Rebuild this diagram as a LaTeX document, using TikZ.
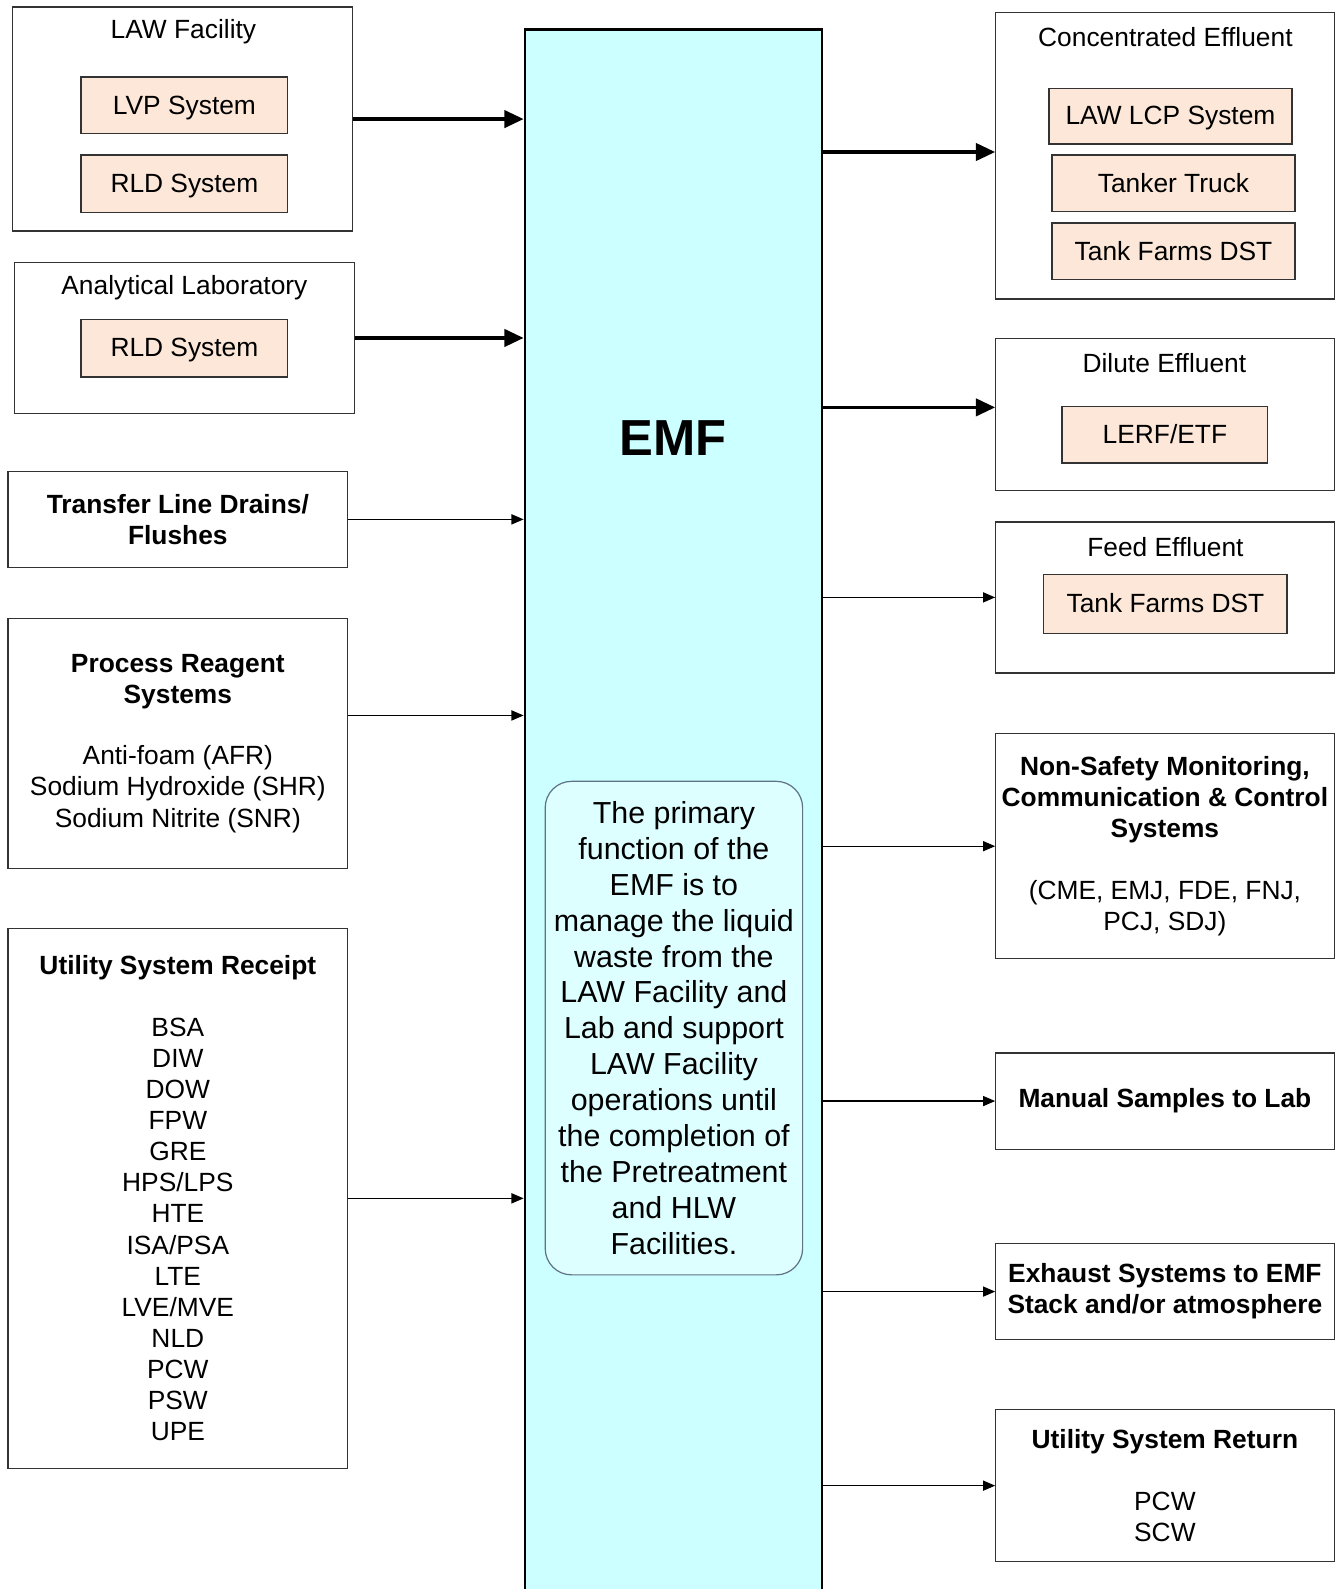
\documentclass[tikz,border=0pt]{standalone}
\usepackage{fontspec}
\setmainfont{Liberation Sans}
\usetikzlibrary{arrows.meta,positioning}

\definecolor{emfcyan}{RGB}{204,255,255}
\definecolor{notecyan}{RGB}{222,255,255}
\definecolor{syspink}{RGB}{252,231,216}
\definecolor{noteline}{RGB}{95,115,135}

\tikzset{
  grp/.style={draw=black!80, line width=1.3pt, inner sep=0pt, outer sep=0pt,
    align=center, font=\fontsize{26}{30.7}\selectfont},
  sys/.style={grp, fill=syspink, text height=19.5pt, text depth=2pt},
  note/.style={draw=noteline, line width=1.2pt, fill=notecyan, rounded corners=26pt,
    align=center, font=\fontsize{30}{35.5}\selectfont},
  ttl/.style={font=\fontsize{26}{30.7}\selectfont, yshift=-2.5pt},
  bigflow/.style={line width=3.4pt, -{Triangle[length=19pt,width=17pt]}},
  flow/.style={line width=1.2pt, -{Triangle[length=12pt,width=10pt]}},
}

\begin{document}
\begin{tikzpicture}[x=1pt,y=-1pt]
    \useasboundingbox (0,0) rectangle (1318,1568);
    \clip (0,0) rectangle (1318,1568);

    % EMF column
    \node[draw=black, line width=2.6pt, fill=emfcyan, minimum width=293pt,
      minimum height=1600pt, inner sep=0pt] (emf) at (664.5,829) {};
    \node[font=\fontsize{50}{60}\selectfont\bfseries] (emft) at (664,432) {EMF};
    \node[note, minimum width=254pt, minimum height=487pt] (purpose) at (665,1014.5)
      {The primary\\function of the\\EMF is to\\manage the liquid\\waste from the\\
       LAW Facility and\\Lab and support\\LAW Facility\\operations until\\
       the completion of\\the Pretreatment\\and HLW\\Facilities.};

    % Left side: sources
    \node[grp, minimum width=336pt, minimum height=221pt] (law) at (180,117.5) {};
    \node[ttl] (lawt) at (181,29) {LAW Facility};
    \node[sys, minimum width=204pt, minimum height=56pt] (lvp) at (182,104) {LVP System};
    \node[sys, minimum width=204pt, minimum height=57pt] (rldlaw) at (182,181.5) {RLD System};

    \node[grp, minimum width=336pt, minimum height=149pt] (lab) at (182,333.5) {};
    \node[ttl] (labt) at (182,281) {Analytical Laboratory};
    \node[sys, minimum width=204pt, minimum height=57pt] (rldlab) at (182,343.5) {RLD System};

    \node[grp, minimum width=335pt, minimum height=95pt] (tld) at (175.5,512.5)
      {\textbf{Transfer Line Drains/}\\\textbf{Flushes}};

    \node[grp, minimum width=335pt, minimum height=247pt] (prs) at (175.5,733.5)
      {\textbf{Process Reagent}\\\textbf{Systems}\\[30pt]Anti-foam (AFR)\\
       Sodium Hydroxide (SHR)\\Sodium Nitrite (SNR)};

    \node[grp, minimum width=335pt, minimum height=533pt] (usin) at (175.5,1182.5)
      {\textbf{Utility System Receipt}\\[30pt]BSA\\DIW\\DOW\\FPW\\GRE\\HPS/LPS\\HTE\\
       ISA/PSA\\LTE\\LVE/MVE\\NLD\\PCW\\PSW\\UPE};

    % Right side: destinations
    \node[grp, minimum width=335pt, minimum height=283pt] (conc) at (1149.5,153.5) {};
    \node[ttl] (conct) at (1150,34) {Concentrated Effluent};
    \node[sys, minimum width=240pt, minimum height=55pt] (lcp) at (1155,114.5) {LAW LCP System};
    \node[sys, minimum width=240pt, minimum height=56pt] (truck) at (1158,181) {Tanker Truck};
    \node[sys, minimum width=240pt, minimum height=56pt] (dstconc) at (1158,248) {Tank Farms DST};

    \node[grp, minimum width=335pt, minimum height=150pt] (dil) at (1149.5,409) {};
    \node[ttl] (dilt) at (1149,356) {Dilute Effluent};
    \node[sys, minimum width=203pt, minimum height=56pt] (lerf) at (1149.5,429) {LERF/ETF};

    \node[grp, minimum width=335pt, minimum height=149pt] (feed) at (1149.5,589.5) {};
    \node[ttl] (feedt) at (1150,537) {Feed Effluent};
    \node[sys, minimum width=240pt, minimum height=58pt] (dstfeed) at (1150,596) {Tank Farms DST};

    \node[grp, minimum width=335pt, minimum height=222pt] (nsm) at (1149.5,835)
      {\textbf{Non-Safety Monitoring,}\\\textbf{Communication \& Control}\\
       \textbf{Systems}\\[30pt](CME, EMJ, FDE, FNJ,\\PCJ, SDJ)};

    \node[grp, minimum width=335pt, minimum height=95pt] (man) at (1149.5,1086.5)
      {\textbf{Manual Samples to Lab}};

    \node[grp, minimum width=335pt, minimum height=95pt] (exh) at (1149.5,1274.5)
      {\textbf{Exhaust Systems to EMF}\\\textbf{Stack and/or atmosphere}};

    \node[grp, minimum width=335pt, minimum height=150pt] (usout) at (1149.5,1466)
      {\textbf{Utility System Return}\\[30pt]PCW\\SCW};

    % Flows into EMF
    \draw[bigflow] (law.east) -- (law.east -| emf.west);
    \draw[bigflow] (lab.east) -- (lab.east -| emf.west);
    \draw[flow] (tld.east) -- (tld.east -| emf.west);
    \coordinate (prsout) at ([yshift=27.5pt]prs.east);
    \draw[flow] (prsout) -- (prsout -| emf.west);
    \draw[flow] (usin.east) -- (usin.east -| emf.west);

    % Flows out of EMF
    \coordinate (concin) at ([yshift=3.5pt]conc.west);
    \draw[bigflow] (concin -| emf.east) -- (concin);
    \coordinate (dilin) at ([yshift=7pt]dil.west);
    \draw[bigflow] (dilin -| emf.east) -- (dilin);
    \draw[flow] (feed.west -| emf.east) -- (feed.west);
    \draw[flow] (nsm.west -| emf.east) -- (nsm.west);
    \draw[flow] (man.west -| emf.east) -- (man.west);
    \draw[flow] (exh.west -| emf.east) -- (exh.west);
    \draw[flow] (usout.west -| emf.east) -- (usout.west);
\end{tikzpicture}
\end{document}
